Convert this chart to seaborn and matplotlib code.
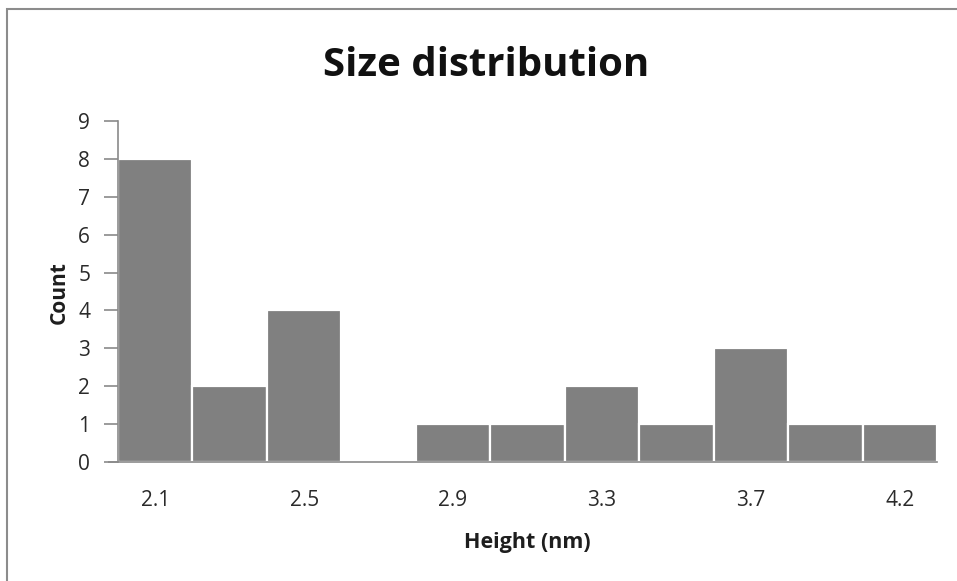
import matplotlib
matplotlib.use("Agg")
import matplotlib.pyplot as plt
import seaborn as sns
import pandas as pd
from matplotlib.patches import Rectangle

# Histogram bins (nm) and counts per bin
heights = ["2.1", "2.3", "2.5", "2.7", "2.9", "3.1", "3.3", "3.5", "3.7", "3.9", "4.2"]
counts = [8, 2, 4, 0, 1, 1, 2, 1, 3, 1, 1]
shown_labels = ["2.1", "2.5", "2.9", "3.3", "3.7", "4.2"]

df = pd.DataFrame({"Height": heights, "Count": counts})

sns.set_theme(style="white")
plt.rcParams["font.family"] = ["Open Sans", "DejaVu Sans"]

W, H = 957, 581
fig = plt.figure(figsize=(W / 100, H / 100), dpi=100)
ax = fig.add_axes([118 / W, 1 - 462 / H, (937 - 118) / W, (462 - 121) / H])

sns.barplot(data=df, x="Height", y="Count", color="#808080", saturation=1,
            width=1.0, edgecolor="white", linewidth=1.6, ax=ax)

ax.set_xlim(-0.5, len(heights) - 0.5)
ax.set_ylim(0, 9)
ax.set_yticks(range(0, 10))

ax.set_xticks(range(len(heights)))
ax.set_xticklabels([h if h in shown_labels else "" for h in heights])

axis_grey = "#8a8a8a"
for side in ["top", "right"]:
    ax.spines[side].set_visible(False)
ax.spines["left"].set_color(axis_grey)
ax.spines["bottom"].set_color(axis_grey)
ax.spines["left"].set_linewidth(1.2)
ax.spines["bottom"].set_linewidth(1.2)

ax.tick_params(axis="y", which="major", left=True, length=10, width=1.2,
               color=axis_grey, labelsize=15, labelcolor="#2a2a2a", pad=10)
ax.tick_params(axis="x", which="major", bottom=False, labelsize=15,
               labelcolor="#2a2a2a", pad=14)

# extend the baseline to meet the zero tick
ax.plot([-0.5 - 10 / 74.5, -0.5], [0, 0], color=axis_grey, lw=1.2,
        clip_on=False, solid_capstyle="butt")

ax.set_xlabel("")
ax.set_ylabel("")
fig.text(527 / W, 1 - 548 / H, "Height (nm)", ha="center", va="baseline",
         fontsize=15.5, fontweight="bold", color="#1e1e1e")
fig.text(59 / W, 1 - 293 / H, "Count", ha="center", va="center",
         rotation=90, fontsize=15, fontweight="bold", color="#1e1e1e")
fig.text(486 / W, 1 - 76 / H, "Size distribution", ha="center", va="baseline",
         fontsize=29, fontweight="bold", color="#111111")

# chart-area frame
fig.patches.append(Rectangle((7 / W, -0.05), 1.1, 1 - 9 / H + 0.05,
                             transform=fig.transFigure, fill=False,
                             edgecolor="#8c8c8c", linewidth=1.5))

fig.savefig("out.png", dpi=100, facecolor="white")
